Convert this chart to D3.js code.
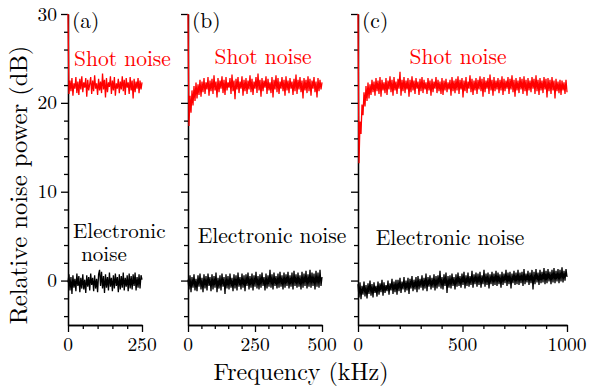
<!DOCTYPE html>
<html>
<head>
<meta charset="utf-8">
<script src="https://cdn.jsdelivr.net/npm/d3@7"></script>
<style>
  html, body { margin: 0; padding: 0; background: #fff; }
</style>
</head>
<body>
<svg id="chart" width="590" height="390"></svg>
<script>
// ---------------- DATA ----------------
const panelNames = ["(a)", "(b)", "(c)"];
const freqMax = [250, 500, 1000];            // kHz
const xMajorTicks = [[0, 250], [0, 250, 500], [0, 500, 1000]];
const xMinorStep = [50, 50, 100];
const yDomain = [-5, 30];
const yMajorTicks = [0, 10, 20, 30];

// Shot noise traces (dB), evenly sampled from 0 to freqMax
const shotA = [30, 21.0, 22.5, 21.3, 22.8, 20.8, 22.2, 21.6, 22.9, 21.1, 22.4, 20.9, 22.7, 21.5, 23.0, 21.2, 22.3, 21.7, 22.8, 20.7,
  22.6, 21.4, 22.1, 22.9, 21.0, 22.5, 21.3, 23.1, 21.6, 22.2, 20.9, 22.7, 21.4, 22.4, 21.1, 23.3, 21.5, 22.6, 20.6, 22.8,
  21.2, 22.3, 21.8, 23.0, 21.0, 22.5, 21.4, 22.9, 20.8, 22.2, 21.6, 22.7, 21.1, 22.4, 21.5, 23.0, 21.3, 22.6, 20.9, 22.8,
  21.7, 22.3, 21.0, 22.9, 21.4, 22.5, 20.5, 22.7, 21.2, 22.4, 21.6, 22.8, 21.1, 22.5, 21.5, 22.3];
const shotB = [30, 17.4, 20.8, 18.9, 21.4, 19.7, 21.9, 20.2, 22.3, 20.5, 22.1, 20.9, 22.6, 20.7, 22.4, 21.2, 22.8, 21.0, 22.3, 21.5,
  22.9, 20.8, 22.5, 21.3, 22.7, 21.0, 23.1, 21.4, 22.4, 20.6, 22.8, 21.2, 22.5, 21.6, 23.0, 21.1, 22.6, 20.9, 22.9, 21.4,
  22.3, 21.7, 22.8, 21.0, 23.2, 21.3, 22.5, 20.4, 22.7, 21.5, 22.9, 21.1, 22.4, 21.6, 23.0, 20.8, 22.6, 21.3, 22.8, 21.0,
  22.5, 21.5, 23.1, 21.2, 22.7, 20.9, 22.4, 21.6, 22.9, 21.1, 23.3, 21.4, 22.6, 20.7, 22.8, 21.3, 22.5, 21.7, 23.0, 21.0,
  22.7, 21.4, 22.3, 21.1, 22.9, 20.6, 22.6, 21.5, 23.1, 21.2, 22.8, 21.0, 22.4, 21.6, 22.9, 21.3, 22.6, 20.8, 23.0, 21.4,
  22.5, 21.1, 22.8, 21.6, 22.4, 20.9, 22.7, 21.3, 23.2, 21.0, 22.6, 21.5, 22.9, 21.2, 22.5, 20.5, 22.8, 21.4, 22.6, 21.1,
  23.0, 21.3, 22.7, 20.8, 22.5, 21.6, 22.9, 21.2, 22.4, 20.6, 22.8, 21.3, 22.6, 21.5, 22.3];
const shotC = [30, 13.2, 17.9, 16.5, 19.8, 18.6, 21.2, 19.6, 21.9, 20.2, 22.3, 20.5, 22.1, 20.9, 22.6, 21.2, 22.4, 20.8, 22.8, 21.3,
  22.5, 21.0, 22.9, 20.7, 22.6, 21.4, 22.3, 21.1, 22.8, 20.9, 22.5, 21.5, 23.0, 21.2, 22.6, 20.8, 22.9, 21.4, 22.4, 21.0,
  22.7, 21.6, 23.5, 20.8, 22.6, 21.3, 22.9, 21.1, 22.5, 21.5, 22.8, 20.7, 22.6, 21.2, 23.0, 21.4, 22.5, 21.0, 22.8, 21.6,
  22.4, 20.9, 22.7, 21.3, 22.9, 21.1, 22.6, 21.5, 22.3, 21.0, 22.8, 21.4, 22.5, 20.8, 22.7, 21.2, 22.4, 21.6, 22.9, 21.1,
  22.6, 21.3, 22.4, 21.0, 22.8, 20.9, 22.5, 21.4, 22.7, 21.2, 22.3, 21.5, 22.6, 20.8, 22.9, 21.3, 22.5, 21.1, 22.7, 21.4,
  23.0, 21.0, 22.6, 21.5, 22.8, 20.6, 22.5, 21.3, 22.9, 21.1, 22.4, 21.6, 23.1, 21.2, 22.7, 20.9, 22.5, 21.4, 22.8, 21.0,
  22.6, 21.5, 23.0, 21.3, 22.7, 20.7, 22.9, 21.2, 22.5, 21.6, 22.8, 21.0, 23.2, 21.4, 22.6, 20.8, 22.9, 21.3, 22.5, 21.5,
  22.8, 21.1, 22.6, 21.4, 23.0, 20.9, 22.7, 21.3, 22.5, 21.6, 22.9, 21.0, 22.7, 21.5, 23.1, 21.2, 22.6, 20.7, 22.8, 21.4,
  22.5, 21.1, 22.9, 21.5, 22.7, 21.0, 23.0, 21.3, 22.6, 20.8, 22.8, 21.4, 22.5, 21.2, 22.9, 21.6, 22.7, 21.0, 23.1, 21.3,
  22.6, 20.9, 22.8, 21.4, 22.5, 21.1, 22.9, 21.5, 22.7, 20.6, 22.8, 21.3, 22.6, 21.0, 22.9, 21.4, 22.5, 20.5, 22.7, 21.3,
  22.4, 21.1, 22.6, 20.9, 22.5, 21.4, 22.3, 21.0, 22.6, 21.2];

// Electronic noise traces (dB)
const elecA = [-0.2, 0.7, -1.1, 0.4, -1.5, 0.6, -0.8, 0.2, -1.2, 0.8, -0.6, 0.5, -1.3, 0.3, -0.9, 0.7, -1.0, 0.1, -1.4, 0.6,
  -0.7, 0.4, -1.1, 0.8, -0.5, 0.3, -1.2, 0.6, -0.9, 0.2, -1.3, 0.7, 1.2, -0.6, 1.0, -0.9, 0.5, -1.4, 0.7, -0.8,
  0.4, -1.1, 0.9, -0.7, 0.3, -1.2, 0.6, -0.9, 0.8, -0.6, 0.4, -1.3, 0.7, -1.0, 0.5, -0.8, 0.9, -1.1, 0.3, -0.7,
  0.6, -1.2, 0.8, -0.9, 0.5, -1.0, 0.7, -0.6, 0.9, -1.1, 0.4, -0.8, 0.7, -0.9, 0.6, 0.1];
const elecB = [0.1, -1.0, 0.6, -1.3, 0.4, -0.8, 0.7, -1.1, 0.2, -1.2, 0.6, -0.7, 0.8, -1.0, 0.3, -1.3, 0.7, -0.9, 0.5, -1.1,
  0.8, -0.6, 0.4, -1.2, 0.7, -1.0, 0.5, -0.8, 0.9, -1.3, 0.3, -0.9, 0.6, -1.1, 0.8, -0.7, 0.4, -1.5, 0.7, -0.9,
  0.5, -1.0, 0.8, -0.8, 0.3, -1.2, 0.7, -0.9, 0.6, -1.1, 0.9, -0.7, 0.4, -1.0, 0.8, -0.8, 0.6, -1.2, 0.7, -0.6,
  0.9, -1.0, 0.5, -0.8, 0.8, -1.1, 0.6, -0.7, 1.0, -0.9, 0.5, -1.0, 0.7, -0.8, 0.9, -0.6, 0.4, -1.1, 0.8, -0.9,
  0.6, -0.7, 1.2, -0.8, 0.7, -1.0, 0.9, -0.6, 0.5, -0.9, 0.8, -0.8, 1.0, -0.7, 0.6, -1.0, 0.9, -0.8, 0.7, -0.6,
  1.0, -0.9, 0.6, -0.7, 0.9, -1.0, 1.1, -0.6, 0.7, -0.8, 0.9, -0.7, 0.6, -1.0, 1.0, -0.8, 0.8, -0.6, 1.1, -0.9,
  0.7, -0.7, 1.2, -0.8, 0.9, -0.6, 0.8, -1.0, 1.1, -0.7, 0.9, -0.8, 1.2, -0.6, 0.4];
const elecC = [-0.4, -1.9, -0.2, -2.1, -0.6, -1.6, -0.1, -1.8, -0.5, -2.0, -0.3, -1.5, 0.0, -1.7, -0.4, -1.9, -0.2, -1.4, -0.6, -1.8,
  -0.1, -1.6, -0.3, -1.3, 0.1, -1.7, -0.2, -1.4, -0.5, -1.2, 0.0, -1.6, -0.3, -1.1, 0.2, -1.5, -0.1, -1.3, 0.1, -1.6,
  0.1, -1.2, 0.3, -1.4, -0.1, -1.0, 0.4, -1.3, 0.0, -1.1, 0.3, -1.5, 0.2, -0.9, 0.5, -1.2, 0.1, -1.0, 0.4, -1.3,
  0.5, -1.0, 0.2, -0.8, 0.6, -1.1, 0.3, -0.9, 0.8, -1.2, 0.4, -0.7, 0.6, -1.0, 0.3, -0.8, 0.7, -1.1, 0.5, -0.9,
  0.6, -0.7, 1.1, -0.9, 0.4, -1.0, 0.7, -0.6, 0.9, -1.4, 0.5, -0.8, 0.6, -0.9, 0.8, -0.6, 0.4, -1.0, 0.7, -0.7,
  0.9, -0.6, 0.5, -0.8, 0.8, -0.5, 1.0, -0.9, 0.6, -0.6, 0.9, -0.7, 0.5, -0.5, 1.1, -0.8, 0.7, -0.4, 0.9, -0.7,
  0.8, -0.5, 1.0, -0.8, 0.6, -0.4, 1.2, -0.7, 0.8, -0.5, 0.9, -0.9, 0.7, -0.4, 1.0, -0.6, 0.8, -0.5, 1.1, -0.6,
  0.9, -0.4, 0.7, -0.8, 1.0, -0.5, 0.8, -0.3, 1.2, -0.6, 0.9, -0.4, 1.0, -0.9, 0.8, -0.3, 1.1, -0.5, 0.9, -0.4,
  1.2, -0.5, 0.9, -0.3, 1.0, -0.6, 1.3, -0.4, 0.8, -0.2, 1.1, -0.5, 0.9, -0.3, 1.2, -1.0, 1.0, -0.4, 1.3, -0.2,
  0.9, -0.5, 1.2, -0.3, 1.0, -0.2, 1.4, -0.4, 1.1, -0.3, 1.3, -0.1, 1.0, -0.4, 1.2, -0.2, 1.4, -0.3, 1.1, -0.1,
  1.3, -0.3, 1.2, -0.1, 1.5, -0.2, 1.1, 0.0, 1.3, 0.4];

const shotSeries = [shotA, shotB, shotC];
const elecSeries = [elecA, elecB, elecC];

// ---------------- LAYOUT ----------------
const svg = d3.select("#chart");
const FONT = '"Latin Modern Roman", "CMU Serif", "Liberation Serif", serif';
const TOP = 14, BOTTOM = 325;
const panelX = [[68, 142], [188, 322], [358, 567]];

const y = d3.scaleLinear().domain(yDomain).range([BOTTOM, TOP]);

function label(g, txt, x, yy, size, anchor, color, rotate) {
  return g.append("text")
    .attr("transform", `translate(${x},${yy})` + (rotate ? ` rotate(${rotate})` : ""))
    .style("font-family", FONT)
    .attr("text-anchor", anchor)
    .attr("font-size", size)
    .attr("fill", color || "#000")
    .text(txt);
}

panelNames.forEach((name, p) => {
  const [x0, x1] = panelX[p];
  const x = d3.scaleLinear().domain([0, freqMax[p]]).range([x0, x1]);
  const g = svg.append("g");

  const lineFor = arr => d3.line()
    .x((d, i) => x(i * freqMax[p] / (arr.length - 1)))
    .y(d => y(d))(arr);

  // y axis minor + major (outward ticks)
  const yMinor = d3.range(-4, 31, 2).filter(v => v % 10 !== 0);
  g.append("g").attr("transform", `translate(${x0},0)`)
    .call(d3.axisLeft(y).tickValues(yMinor).tickSize(4).tickSizeOuter(0).tickFormat(""));
  g.append("g").attr("transform", `translate(${x0},0)`)
    .call(d3.axisLeft(y).tickValues(yMajorTicks).tickSize(7).tickSizeOuter(0).tickFormat(""));

  // x axis minor + major
  const xMinor = d3.range(0, freqMax[p] + 1, xMinorStep[p]).filter(v => !xMajorTicks[p].includes(v));
  g.append("g").attr("transform", `translate(0,${BOTTOM})`)
    .call(d3.axisBottom(x).tickValues(xMinor).tickSize(4).tickSizeOuter(0).tickFormat(""));
  g.append("g").attr("transform", `translate(0,${BOTTOM})`)
    .call(d3.axisBottom(x).tickValues(xMajorTicks[p]).tickSize(7).tickSizeOuter(0).tickFormat(""));

  g.selectAll(".domain, .tick line").attr("stroke", "#000").attr("stroke-width", 1.3);

  g.append("path").attr("d", lineFor(shotSeries[p]))
    .attr("fill", "none").attr("stroke", "#ff0000").attr("stroke-width", 1.3);
  g.append("path").attr("d", lineFor(elecSeries[p]))
    .attr("fill", "none").attr("stroke", "#000").attr("stroke-width", 1.3);

  // x tick labels
  xMajorTicks[p].forEach(v => label(g, String(v), x(v), BOTTOM + 26, 19.5, "middle"));

  // y tick labels only on first panel
  if (p === 0) {
    yMajorTicks.forEach(v => label(g, String(v), x0 - 11, y(v) + 6.5, 19.5, "end"));
  }

  // panel letter
  label(g, name, x0 + 4, 28, 21.5, "start");
});

// annotations
label(svg, "Shot noise", 74, 66, 21.5, "start", "#ff0000");
label(svg, "Shot noise", 263, 64, 21.5, "middle", "#ff0000");
label(svg, "Shot noise", 458, 64, 21.5, "middle", "#ff0000");
label(svg, "Electronic", 73, 238, 21, "start");
label(svg, "noise", 104, 261, 21, "middle");
label(svg, "Electronic noise", 272, 243, 21.5, "middle");
label(svg, "Electronic noise", 450, 245, 21.5, "middle");

// axis titles
label(svg, "Frequency (kHz)", 301, 380, 24, "middle");
label(svg, "Relative noise power (dB)", 27, 185, 24.5, "middle", "#000", -90);
</script>
</body>
</html>
